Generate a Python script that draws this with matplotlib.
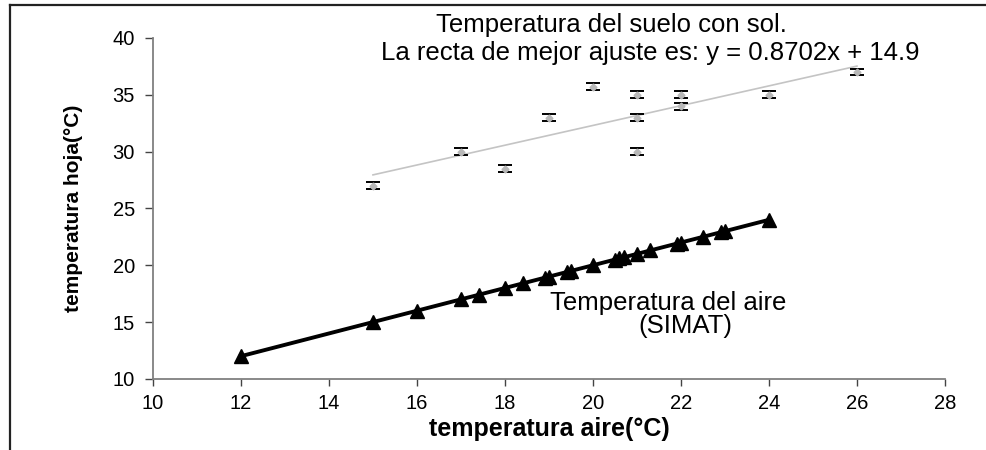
import matplotlib

matplotlib.use("Agg")
import matplotlib.pyplot as plt
import numpy as np
from matplotlib.lines import Line2D

plt.rcParams["font.family"] = ["Liberation Sans", "DejaVu Sans"]

# leaf temperature measured in the sun vs air temperature
sol_x = [15, 17, 18, 19, 20, 21, 21, 21, 22, 22, 24, 26]
sol_y = [27, 30, 28.5, 33, 35.7, 35, 33, 30, 35, 34, 35, 37]
sol_err = 0.3
fit_slope, fit_icpt = 0.8702, 14.9

# SIMAT air temperature series
simat_x = [12, 15, 16, 17, 17.4, 18, 18.4, 18.9, 19, 19.4, 19.5, 20,
           20.5, 20.6, 20.7, 21, 21.3, 21.9, 22, 22.5, 22.9, 23, 24]
simat_y = [12, 15, 16, 17, 17.4, 18, 18.4, 18.9, 19, 19.4, 19.5, 20,
           20.5, 20.6, 20.7, 21, 21.3, 21.9, 22, 22.5, 22.9, 23, 24]

xticks = list(range(10, 29, 2))
yticks = list(range(10, 41, 5))

fig = plt.figure(figsize=(9.87, 4.5), dpi=100)
ax = fig.add_axes([0.155, 0.158, 0.8024, 0.7576])

# outer frame (left + top edges)
fig.add_artist(Line2D([10 / 987, 10 / 987], [0, 1 - 5 / 450], transform=fig.transFigure,
                      color="#222222", lw=1.6))
fig.add_artist(Line2D([10 / 987, 1], [1 - 5 / 450, 1 - 5 / 450], transform=fig.transFigure,
                      color="#222222", lw=1.6))

fx = np.array([min(sol_x), max(sol_x)])
ax.plot(fx, fit_slope * fx + fit_icpt, color="#c4c4c4", lw=1.2, zorder=2)
ax.errorbar(sol_x, sol_y, yerr=sol_err, fmt="D", ms=3.5, mfc="#b8b8b8", mec="#b8b8b8",
            ecolor="black", elinewidth=0.8, capsize=5, capthick=1.4, zorder=3)

ax.plot(simat_x, simat_y, color="black", lw=2.8, marker="^", ms=10.5, zorder=4)

txt = dict(fontsize=18.5, va="baseline", ha="center")
ax.text(20.42, 40.5, "Temperatura del suelo con sol.", **txt)
ax.text(21.3, 38.06, "La recta de mejor ajuste es: y = 0.8702x + 14.9", **txt)
ax.text(21.7, 16.1, "Temperatura del aire", **txt)
ax.text(22.1, 14.05, "(SIMAT)", **txt)

ax.set_xlim(10, 28)
ax.set_ylim(10, 40)
ax.set_xticks(xticks)
ax.set_yticks(yticks)
ax.tick_params(colors="#444444", labelcolor="black", labelsize=14.5, width=1)
ax.tick_params(axis="x", length=5, pad=6)
ax.tick_params(axis="y", length=6, pad=7)
for s in ("top", "right"):
    ax.spines[s].set_visible(False)
for s in ("left", "bottom"):
    ax.spines[s].set_color("#808080")
    ax.spines[s].set_linewidth(1.3)

ax.set_xlabel("temperatura aire(°C)", fontsize=18, weight="bold")
ax.xaxis.set_label_coords(0.5, -0.112, transform=ax.transAxes)
ax.set_ylabel("temperatura hoja(°C)", fontsize=15, weight="bold")
ax.yaxis.set_label_coords(-0.088, 0.5, transform=ax.transAxes)

fig.savefig("out.png", dpi=100)
